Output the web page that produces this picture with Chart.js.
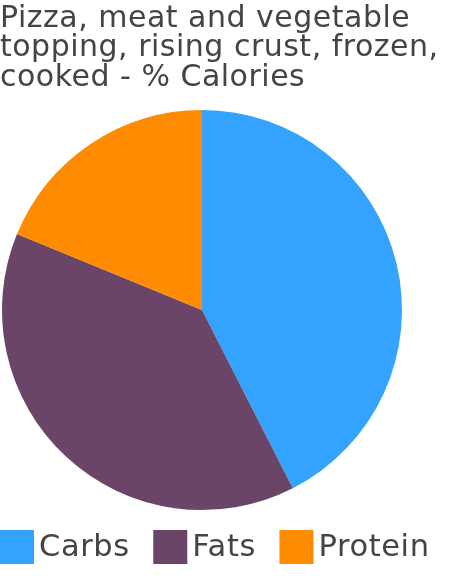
<!DOCTYPE html>
<html>
<head>
<meta charset="utf-8">
<script src="https://cdn.jsdelivr.net/npm/chart.js@4/dist/chart.umd.min.js"></script>
<style>
  html, body { margin: 0; padding: 0; background: #fff; }
  #wrap { width: 474px; height: 587px; }
</style>
</head>
<body>
<div id="wrap"><canvas id="pie"></canvas></div>
<script>
const titleLines = ['Pizza, meat and vegetable', 'topping, rising crust, frozen,', 'cooked - % Calories'];
const categories = ['Carbs', 'Fats', 'Protein'];
const calories = [42.5, 38.7, 18.8];
const colors = ['#33a3ff', '#6b4568', '#ff8c00'];

const FONT = '"DejaVu Sans", Verdana, sans-serif';
const TEXT = '#444';

// title drawn by hand: the built-in one squeezes lines to the pie's width
const topTitle = {
  id: 'topTitle',
  afterDraw(chart) {
    const ctx = chart.ctx;
    ctx.save();
    ctx.font = '30px ' + FONT;
    ctx.letterSpacing = '0.5px';
    ctx.fillStyle = TEXT;
    ctx.textBaseline = 'alphabetic';
    titleLines.forEach((line, i) => ctx.fillText(line, 0, 26.7 + i * 29.5));
    ctx.restore();
  }
};

// legend drawn by hand so box/text spacing matches
const bottomLegend = {
  id: 'bottomLegend',
  afterDraw(chart) {
    const ctx = chart.ctx;
    const ds = chart.data.datasets[0];
    ctx.save();
    ctx.font = '30.5px ' + FONT;
    ctx.letterSpacing = '0.6px';
    ctx.textBaseline = 'middle';
    let x = 0;
    const y = 530, box = 34;
    chart.data.labels.forEach((lab, i) => {
      ctx.fillStyle = ds.backgroundColor[i];
      ctx.fillRect(x, y, box, box);
      ctx.fillStyle = TEXT;
      ctx.fillText(lab, x + 39, y + box / 2 + 1);
      x += 39 + ctx.measureText(lab).width + 23.5;
    });
    ctx.restore();
  }
};

new Chart(document.getElementById('pie'), {
  type: 'pie',
  data: {
    labels: categories,
    datasets: [{
      data: calories,
      backgroundColor: colors,
      borderWidth: 0
    }]
  },
  options: {
    responsive: true,
    maintainAspectRatio: false,
    animation: false,
    layout: { padding: { left: 2, right: 72, top: 110, bottom: 77 } },
    plugins: {
      legend: { display: false },
      tooltip: { enabled: false },
      title: { display: false }
    }
  },
  plugins: [topTitle, bottomLegend]
});
</script>
</body>
</html>
